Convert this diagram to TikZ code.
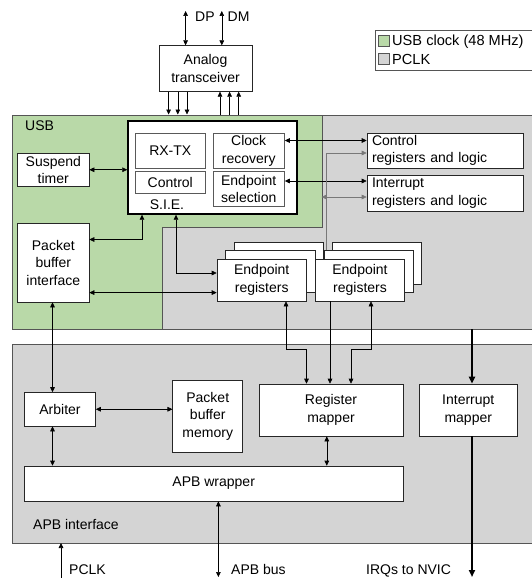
\documentclass[tikz,border=0pt]{standalone}
\usepackage{fontspec}
\setmainfont{Liberation Sans}
\usetikzlibrary{arrows.meta,calc}
\definecolor{usbgreen}{RGB}{185,217,168}
\definecolor{pclkgray}{RGB}{212,212,212}
\definecolor{edgegray}{RGB}{85,85,85}
\definecolor{wiregray}{RGB}{120,120,120}
\begin{document}
\begin{tikzpicture}[x=1pt,y=-1pt,
  font=\fontsize{14}{17.5}\selectfont,
  blk/.style={draw=black!85, fill=white, line width=0.6pt, inner sep=0pt, align=center},
  sub/.style={draw=black!65, fill=white, line width=0.6pt, inner sep=0pt, align=center},
  lbl/.style={inner sep=0pt, anchor=base west},
  tip/.tip={Triangle[length=5pt,width=4.6pt]},
  arr/.style={line width=0.6pt, -tip},
  darr/.style={line width=0.6pt, tip-tip},
  garr/.style={line width=0.6pt, draw=wiregray, -tip},
  gdarr/.style={line width=0.6pt, draw=wiregray, tip-tip},
  thickarr/.style={line width=1.8pt, -{Triangle[length=7pt,width=6pt]}}]
\useasboundingbox (0,0) rectangle (531,578);

% ---------------- regions
\filldraw[fill=pclkgray, draw=edgegray, line width=0.6pt] (12,115) rectangle (540,329);
\filldraw[fill=usbgreen, draw=edgegray, line width=0.6pt] (12,115) -- (322,115) -- (322,227) -- (162,227) -- (162,329) -- (12,329) -- cycle;
\filldraw[fill=pclkgray, draw=edgegray, line width=0.6pt] (12,344) rectangle (540,543);
\node[lbl] (usblbl) at (25,130) {USB};
\node[lbl] (apblbl) at (33,529) {APB interface};

% ---------------- legend
\draw[edgegray, fill=white, line width=0.6pt] (375,30) rectangle (540,70);
\filldraw[fill=usbgreen, draw=edgegray, line width=0.5pt] (378,35) rectangle (389,46);
\filldraw[fill=pclkgray, draw=edgegray, line width=0.5pt] (378,53) rectangle (389,64);
\node[lbl, font=\fontsize{14.6}{17.5}\selectfont] (leg1) at (392,46) {USB clock (48 MHz)};
\node[lbl, font=\fontsize{14.6}{17.5}\selectfont] (leg2) at (392,64) {PCLK};

% ---------------- blocks
\node[blk, minimum width=93pt, minimum height=45.7pt] (ana) at (205.5,68.5) {Analog\\transceiver};
\node[blk, line width=1.4pt, draw=black, minimum width=169pt, minimum height=93pt] (sie) at (212.5,167.5) {};
\node[sub, minimum width=70.5pt, minimum height=34.3pt] (rxtx) at (170.25,150.85) {RX-TX};
\node[sub, minimum width=70.5pt, minimum height=22pt] (ctrl) at (170.25,182.6) {Control};
\node[sub, minimum width=71.5pt, minimum height=34.3pt] (clk) at (248.75,150.85) {Clock\\recovery};
\node[sub, minimum width=71.5pt, minimum height=35pt] (eps) at (248.75,189) {Endpoint\\selection};
\node[inner sep=0pt] (sielbl) at (167,205) {S.I.E.};

\node[blk, minimum width=71.4pt, minimum height=33.5pt] (susp) at (53.3,169.75) {Suspend\\timer};
\node[blk, minimum width=71.4pt, minimum height=79pt] (pbi) at (53.3,262.5) {Packet\\buffer\\interface};

\node[blk, minimum width=156pt, minimum height=35pt, align=left, text width=146pt, inner xsep=5pt] (creg) at (445,150.5) {Control\\registers and logic};
\node[blk, minimum width=156pt, minimum height=36pt, align=left, text width=146pt, inner xsep=5pt] (ireg) at (445,193) {Interrupt\\registers and logic};

% endpoint register stacks
\node[blk, minimum width=89.5pt, minimum height=42.2pt] (ep1c) at (278.75,263.4) {};
\node[blk, minimum width=89.5pt, minimum height=42.2pt] (ep1b) at (270.25,271.65) {};
\node[blk, minimum width=89.5pt, minimum height=42.2pt] (ep1) at (261.75,279.9) {Endpoint\\registers};
\node[blk, minimum width=89pt, minimum height=42.2pt] (ep2c) at (377,263.4) {};
\node[blk, minimum width=89pt, minimum height=42.2pt] (ep2b) at (368.5,271.65) {};
\node[blk, minimum width=89pt, minimum height=42.2pt] (ep2) at (360,279.9) {Endpoint\\registers};

\node[blk, minimum width=144pt, minimum height=52pt] (regmap) at (331,410) {Register\\mapper};
\node[blk, minimum width=98.5pt, minimum height=52pt] (intmap) at (468.25,410) {Interrupt\\mapper};
\node[blk, minimum width=71pt, minimum height=33.5pt] (arb) at (60,409.25) {Arbiter};
\node[blk, minimum width=70pt, minimum height=72.4pt] (pbm) at (207.75,416.2) {Packet\\buffer\\memory};
\node[blk, minimum width=378.6pt, minimum height=35pt] (apbw) at (213.7,483.5) {APB wrapper};

% ---------------- external labels
\node[lbl] (dplbl) at (195,22) {DP};
\node[lbl] (dmlbl) at (227.5,22) {DM};
\node[lbl] (pclklbl) at (69,574.5) {PCLK};
\node[lbl] (apbbuslbl) at (231,574.5) {APB bus};
\node[lbl] (irqlbl) at (366,574.5) {IRQs to NVIC};

% ---------------- coordinates
\coordinate (dp) at (185.6,11);
\coordinate (dm) at (221.8,11);
\coordinate (d1) at (168.6,114.5);
\coordinate (d2) at (177.8,114.5);
\coordinate (d3) at (187,114.5);
\coordinate (u1) at (220,114.5);
\coordinate (u2) at (229.6,114.5);
\coordinate (u3) at (238.7,114.5);
\coordinate (yclk) at (0,140.5);
\coordinate (yeps) at (0,181);
\coordinate (gx) at (326,0);
\coordinate (ygc) at (0,153);
\coordinate (gl) at (321.5,197);
\coordinate (s1) at (142,0);
\coordinate (s2) at (176,0);
\coordinate (y239) at (0,239.5);
\coordinate (y273) at (0,273);
\coordinate (y292) at (0,292.6);
\coordinate (xpb) at (52.5,0);
\coordinate (xrm) at (326.8,0);
\coordinate (e1) at (286,0);
\coordinate (e2) at (306.5,0);
\coordinate (e3) at (330,0);
\coordinate (e4) at (371,0);
\coordinate (e5) at (351,0);
\coordinate (y349) at (0,349.5);
\coordinate (irqtop) at (472,329);
\coordinate (irqbot) at (472,577);
\coordinate (apbbus) at (218.4,577);
\coordinate (pclkin) at (61,578);
\coordinate (pclkend) at (61,543);

% ---------------- connectors
\draw[darr] (dp) -- (dp |- ana.north);
\draw[darr] (dm) -- (dm |- ana.north);
\draw[arr] (d1 |- ana.south) -- (d1);
\draw[arr] (d2 |- ana.south) -- (d2);
\draw[arr] (d3 |- ana.south) -- (d3);
\draw[arr] (u1) -- (u1 |- ana.south);
\draw[arr] (u2) -- (u2 |- ana.south);
\draw[arr] (u3) -- (u3 |- ana.south);

\draw[darr] (susp.east) -- (susp.east -| sie.west);
\draw[darr] (clk.east |- yclk) -- (creg.west |- yclk);
\draw[darr] (eps.east |- yeps) -- (ireg.west |- yeps);

\draw[garr] (gx |- ep2b.north) -- (gx |- ygc) -- (creg.west |- ygc);
\draw[gdarr] (gl) -- (gl -| ireg.west);

\draw[darr] (s1 |- sie.south) -- (s1 |- y239) -- (pbi.east |- y239);
\draw[darr] (s2 |- sie.south) -- (s2 |- y273) -- (ep1.west |- y273);
\draw[darr] (pbi.east |- y292) -- (ep1.west |- y292);

\draw[darr] (xpb |- pbi.south) -- (xpb |- arb.north);
\draw[darr] (arb.east) -- (arb.east -| pbm.west);
\draw[darr] (xpb |- arb.south) -- (xpb |- apbw.north);
\draw[darr] (xrm |- regmap.south) -- (xrm |- apbw.north);

\draw[darr] (e1 |- ep1.south) -- (e1 |- y349) -- (e2 |- y349) -- (e2 |- regmap.north);
\draw[arr] (e3 |- ep2.south) -- (e3 |- regmap.north);
\draw[darr] (e4 |- ep2.south) -- (e4 |- y349) -- (e5 |- y349) -- (e5 |- regmap.north);

\draw[thickarr] (irqtop) -- (irqtop |- intmap.north);
\draw[thickarr] (irqtop |- intmap.south) -- (irqbot);
\draw[darr] (apbbus |- apbw.south) -- (apbbus);
\draw[arr] (pclkin) -- (pclkend);
\end{tikzpicture}
\end{document}
